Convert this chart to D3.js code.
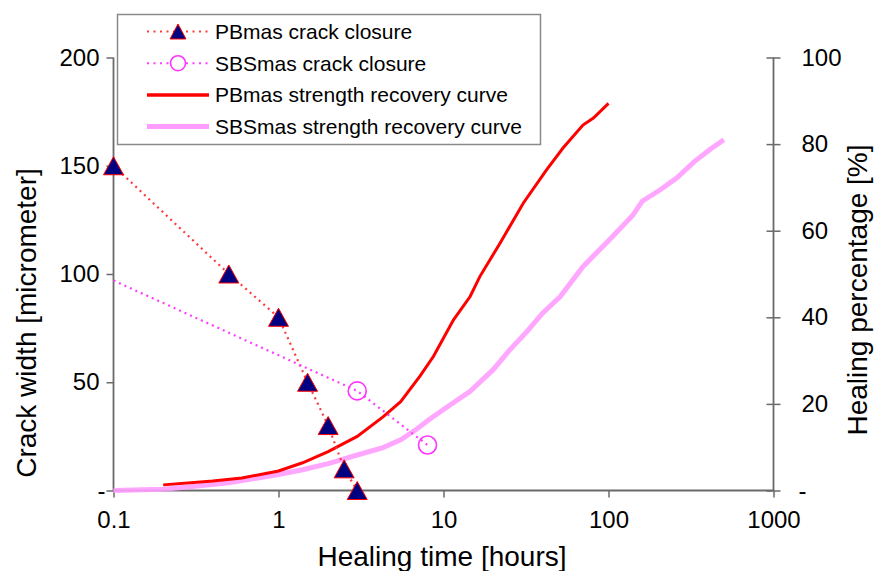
<!DOCTYPE html>
<html>
<head>
<meta charset="utf-8">
<script src="https://cdn.jsdelivr.net/npm/d3@7"></script>
<style>
  html, body { margin: 0; padding: 0; background: #fff; }
  svg { display: block; font-family: "Liberation Sans", Arial, sans-serif; }
</style>
</head>
<body>
<svg id="chart" width="874" height="571"></svg>
<script>
// Crack closure measurements (left axis, micrometer)
const pbTime = [0.1, 0.5, 1, 1.5, 2, 2.5, 3];
const pbWidth = [150, 100, 80, 50, 30, 10, 0];
const sbsTime = [0.1, 3, 8];
const sbsWidth = [97, 46, 21];
const sbsMarked = [false, true, true];

// Strength recovery curves (right axis, %)
const pbCurveTime = [0.2, 0.4, 0.6, 1, 1.4, 2, 3, 4.3, 5.5, 7.2, 8.7, 11.5, 14.5, 16.6, 22, 30.5, 42, 53, 70, 81, 100];
const pbCurvePct = [1.3, 2.2, 2.9, 4.5, 6.4, 9, 12.5, 17, 20.5, 26.4, 31, 39.4, 44.8, 49.4, 57.1, 66.4, 74, 79.1, 84.4, 86, 89.4];
const sbsCurveTime = [0.1, 0.2, 0.3, 0.5, 0.75, 1, 1.4, 2, 2.5, 3, 4.3, 5.5, 6.9, 8, 10, 14.5, 20, 25, 32, 40, 51, 70, 100, 140, 160, 205, 260, 330, 410, 500];
const sbsCurvePct = [0, 0.3, 0.9, 1.8, 2.9, 3.7, 4.8, 6.2, 7.3, 8.2, 9.9, 11.7, 14.2, 16.1, 18.7, 22.9, 27.9, 32.3, 36.7, 41, 44.8, 51.7, 57.7, 63.5, 66.8, 69.4, 72.2, 75.9, 78.7, 81];

// Axis ticks
const xTicks = [0.1, 1, 10, 100, 1000];
const xTickLabels = ["0.1", "1", "10", "100", "1000"];
const yLeftTicks = [0, 50, 100, 150, 200];
const yRightTicks = [0, 20, 40, 60, 80, 100];

const legendLabels = [
  "PBmas crack closure",
  "SBSmas crack closure",
  "PBmas strength recovery curve",
  "SBSmas strength recovery curve"
];

const colors = {
  pbDot: "#ff3a3a",
  sbsDot: "#ff3cff",
  tri: "#000080",
  triEdge: "#ff0000",
  circle: "#ff33ff",
  pbCurve: "#ff0000",
  sbsCurve: "#ff9cff",
  axis: "#6a6a6a"
};

const svg = d3.select("#chart");
const plotLeft = 113.5, plotRight = 773.5, plotTop = 57.5, plotBottom = 490.5;

const x = d3.scaleLog().domain([0.1, 1000]).range([plotLeft, plotRight]);
const yL = d3.scaleLinear().domain([0, 200]).range([plotBottom, plotTop]);
const yR = d3.scaleLinear().domain([0, 100]).range([plotBottom, plotTop]);

const zeroDash = v => (v === 0 ? "-" : String(v));

// ---- curves (right axis)
const curveLine = d3.line().x(d => x(d[0])).y(d => yR(d[1]));
const sbsCurve = sbsCurveTime.map((t, i) => [t, sbsCurvePct[i]]);
const pbCurve = pbCurveTime.map((t, i) => [t, pbCurvePct[i]]);

// ---- axes
const gx = svg.append("g").attr("transform", `translate(0,${plotBottom})`)
  .call(d3.axisBottom(x).tickValues(xTicks)
    .tickFormat((d, i) => xTickLabels[i]).tickSize(7).tickPadding(13));
const gl = svg.append("g").attr("transform", `translate(${plotLeft},0)`)
  .call(d3.axisLeft(yL).tickValues(yLeftTicks).tickFormat(zeroDash).tickSize(7).tickPadding(7));
const gr = svg.append("g").attr("transform", `translate(${plotRight},0)`)
  .call(d3.axisRight(yR).tickValues(yRightTicks).tickFormat(zeroDash).tickSize(7).tickPadding(21));

[gx, gl, gr].forEach(g => {
  g.select(".domain").attr("stroke", colors.axis).attr("stroke-width", 1.8);
  g.selectAll(".tick line").attr("stroke", colors.axis).attr("stroke-width", 1.5);
  g.selectAll(".tick text").attr("fill", "#000").style("font-size", "24px")
    .style("font-family", '"Liberation Sans", Arial, sans-serif');
});
gx.select(".domain").attr("d", `M${plotLeft},0H${plotRight}`);
gl.select(".domain").attr("d", `M0,${plotTop}V${plotBottom}`);
gr.select(".domain").attr("d", `M0,${plotTop}V${plotBottom}`);
gr.selectAll(".tick line").attr("x1", -7);
gl.selectAll(".tick text").filter(d => d === 0).attr("dx", 6);
gr.selectAll(".tick text").filter(d => d === 0).attr("dx", -3);

// axis titles
svg.append("text").attr("transform", "translate(36,323) rotate(-90)")
  .attr("text-anchor", "middle").style("font-size", "28px").text("Crack width [micrometer]");
svg.append("text").attr("transform", "translate(867,290) rotate(-90)")
  .attr("text-anchor", "middle").style("font-size", "28px").text("Healing percentage [%]");
svg.append("text").attr("x", 442).attr("y", 566)
  .attr("text-anchor", "middle").style("font-size", "28px").text("Healing time [hours]");

// strength recovery curves
svg.append("path").datum(sbsCurve).attr("fill", "none")
  .attr("stroke", colors.sbsCurve).attr("stroke-width", 5).attr("stroke-opacity", 0.9)
  .attr("d", curveLine);
svg.append("path").datum(pbCurve).attr("fill", "none")
  .attr("stroke", colors.pbCurve).attr("stroke-width", 3).attr("d", curveLine);

// crack closure lines (left axis)
const closureLine = d3.line().x(d => x(d[0])).y(d => yL(d[1]));
const pbPts = pbTime.map((t, i) => [t, pbWidth[i]]);
const sbsPts = sbsTime.map((t, i) => [t, sbsWidth[i], sbsMarked[i]]);

svg.append("path").datum(pbPts).attr("fill", "none")
  .attr("stroke", colors.pbDot).attr("stroke-width", 2.2).attr("stroke-dasharray", "2,4")
  .attr("d", closureLine);
svg.append("path").datum(sbsPts).attr("fill", "none")
  .attr("stroke", colors.sbsDot).attr("stroke-width", 2.2).attr("stroke-dasharray", "2,4")
  .attr("d", closureLine);

const triPath = (w, h) => `M0,${-h / 2}L${w / 2},${h / 2}L${-w / 2},${h / 2}Z`;

svg.append("g").selectAll("circle").data(sbsPts.filter(d => d[2])).join("circle")
  .attr("cx", d => x(d[0])).attr("cy", d => yL(d[1])).attr("r", 9)
  .attr("fill", "none").attr("stroke", colors.circle).attr("stroke-width", 1.6);

svg.append("g").selectAll("path").data(pbPts).join("path")
  .attr("transform", d => `translate(${x(d[0])},${yL(d[1])})`)
  .attr("d", triPath(20, 18))
  .attr("fill", colors.tri).attr("stroke", colors.triEdge).attr("stroke-width", 1);

// legend
const lg = svg.append("g");
lg.append("rect").attr("x", 117.5).attr("y", 14.5).attr("width", 423).attr("height", 130)
  .attr("fill", "#fff").attr("stroke", "#8a8a8a").attr("stroke-width", 1.5);
const rowY = i => 31.5 + i * 31.7;
const sx0 = 147, sx1 = 209, sxm = 178;
legendLabels.forEach((lab, i) => {
  const yy = rowY(i);
  const row = lg.append("g");
  if (i === 0) {
    row.append("line").attr("x1", sx0).attr("x2", sx1).attr("y1", yy).attr("y2", yy)
      .attr("stroke", colors.pbDot).attr("stroke-width", 2).attr("stroke-dasharray", "2,4.5");
    row.append("path").attr("transform", `translate(${sxm},${yy})`).attr("d", triPath(16, 15))
      .attr("fill", colors.tri).attr("stroke", colors.triEdge).attr("stroke-width", 1);
  } else if (i === 1) {
    row.append("line").attr("x1", sx0).attr("x2", sx1).attr("y1", yy).attr("y2", yy)
      .attr("stroke", colors.sbsDot).attr("stroke-width", 2).attr("stroke-dasharray", "2,4.5");
    row.append("circle").attr("cx", sxm).attr("cy", yy).attr("r", 7.5)
      .attr("fill", "#fff").attr("stroke", colors.circle).attr("stroke-width", 1.6);
  } else if (i === 2) {
    row.append("line").attr("x1", sx0).attr("x2", sx1).attr("y1", yy).attr("y2", yy)
      .attr("stroke", colors.pbCurve).attr("stroke-width", 3.5);
  } else {
    row.append("line").attr("x1", sx0).attr("x2", sx1).attr("y1", yy).attr("y2", yy)
      .attr("stroke", colors.sbsCurve).attr("stroke-width", 5);
  }
  row.append("text").attr("x", 215).attr("y", yy).attr("dy", "0.36em")
    .style("font-size", "21px").attr("fill", "#000").text(lab);
});
</script>
</body>
</html>
